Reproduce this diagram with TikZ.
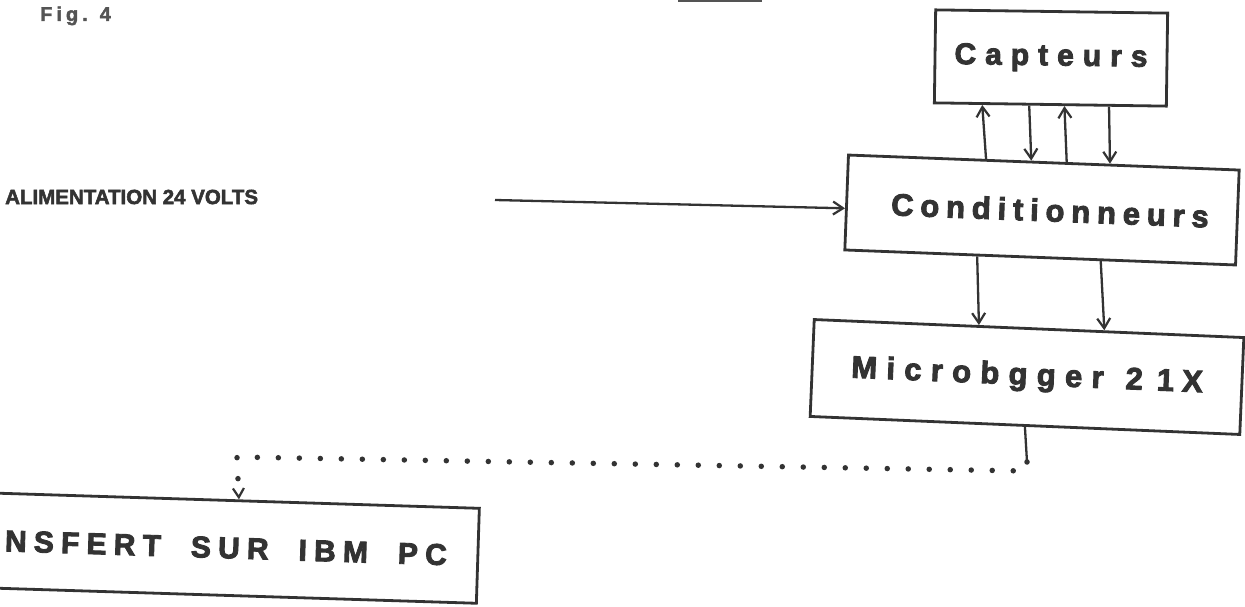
\documentclass[tikz,border=0pt]{standalone}
\usepackage{fontspec}
\setmainfont{Liberation Sans}
\newfontfamily\capfont[LetterSpace=30,FakeBold=3]{Liberation Sans Bold}
\newfontfamily\condfont[LetterSpace=22,FakeBold=3]{Liberation Sans Bold}
\newfontfamily\microfont[LetterSpace=30,FakeBold=3]{Liberation Sans Bold}
\newfontfamily\ibmfont[LetterSpace=24,FakeBold=3]{Liberation Sans Bold}
\newfontfamily\alimfont[FakeBold=2.5]{Liberation Sans Bold}
\newfontfamily\figfont[LetterSpace=20,FakeBold=2]{Liberation Sans Bold}
\usetikzlibrary{arrows.meta,calc}
\definecolor{inkc}{gray}{0.2}
\definecolor{figc}{gray}{0.33}
\tikzset{
  ink/.style={draw=inkc, line width=2.8pt},
  blk/.style={ink, rectangle, inner sep=0pt, text=inkc},
  arr/.style={draw=inkc, line width=2.3pt, -{Straight Barb[length=10pt,width=13pt,line width=2.2pt]}},
  dots/.style={draw=inkc, line width=5.5pt, line cap=round, dash pattern=on 0pt off 21pt},
  dotarr/.style={dots, -{Straight Barb[length=9pt,width=11pt,line width=2.2pt]}},
}
\begin{document}
\begin{tikzpicture}[x=1pt,y=-1pt]
\fill[white] (0,0) rectangle (1245,607);
\useasboundingbox (0,0) rectangle (1245,607);
\clip (0,0) rectangle (1245,607);

% fragments at the top edge
\node[anchor=base west, inner sep=0pt, text=figc, font=\figfont\fontsize{20}{24}\selectfont] (fig) at (40,21) {Fig.\hspace{12pt}4};
\draw[draw=figc, line width=2.5pt] (678,0.5) -- (762,0.5);

% blocks
\node[blk, minimum width=232pt, minimum height=93pt, rotate=-0.8,
      font=\capfont\fontsize{30}{36}\selectfont] (capt) at (1051,58) {Capteurs};
\node[blk, minimum width=391pt, minimum height=95pt, rotate=-2.2,
      font=\condfont\fontsize{31}{36}\selectfont] (cond) at (1042,210) {\hspace{16pt}Conditionneurs};
\node[blk, minimum width=430pt, minimum height=97pt, rotate=-2.4,
      font=\microfont\fontsize{31}{36}\selectfont] (micro) at (1027,377) {Microbgger\hspace{22pt}2\hspace{14pt}1\hspace{8pt}X};
\node[blk, text width=498pt, align=right, inner xsep=31pt, minimum height=95pt, rotate=-1.8,
      font=\ibmfont\fontsize{30}{36}\selectfont] (ibm) at (198,547) {NSFERT\hspace{30pt}SUR\hspace{30pt}IBM\hspace{30pt}PC};

\node[anchor=west, inner sep=0pt, text=inkc, font=\alimfont\fontsize{20.5}{24}\selectfont] (alim) at (5,197) {ALIMENTATION 24 VOLTS};
\coordinate (alimstart) at (495,200);

% connectors
\draw[arr] (alimstart) -- ($(cond.north west)!0.56!(cond.south west)$);

\draw[arr] ($(cond.north west)!0.353!(cond.north east)$) -- ($(capt.south west)!0.21!(capt.south east)$);
\draw[arr] ($(capt.south west)!0.41!(capt.south east)$) -- ($(cond.north west)!0.468!(cond.north east)$);
\draw[arr] ($(cond.north west)!0.558!(cond.north east)$) -- ($(capt.south west)!0.56!(capt.south east)$);
\draw[arr] ($(capt.south west)!0.75!(capt.south east)$) -- ($(cond.north west)!0.668!(cond.north east)$);

\draw[arr] ($(cond.south west)!0.34!(cond.south east)$) -- ($(micro.north west)!0.384!(micro.north east)$);
\draw[arr] ($(cond.south west)!0.654!(cond.south east)$) -- ($(micro.north west)!0.674!(micro.north east)$);

\coordinate (mjoin) at (1027,462);
\coordinate (dr) at (1025,471);
\coordinate (dl) at (237,457);
\draw[ink, line width=2.3pt] (micro.south) -- (mjoin);
\draw[dotarr] (mjoin) -- (dr) -- (dl) -- ($(ibm.north west)!0.57!(ibm.north east)$);
\end{tikzpicture}
\end{document}
